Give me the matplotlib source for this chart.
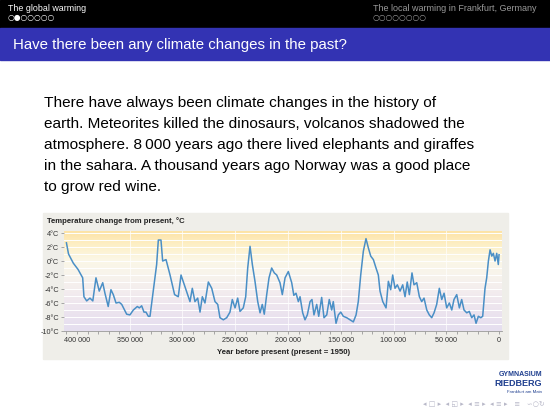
import numpy as np
import matplotlib.pyplot as plt
from matplotlib.colors import LinearSegmentedColormap
from matplotlib.patches import Rectangle

# temperature change from present
years_ka = [410, 408, 403.5, 399, 394.6, 393.4, 390.8, 387.7, 385, 382,
            378.9, 375.6, 373.5, 370.4, 367.8, 365.6, 363, 359.9, 357.6, 352.9,
            349.8, 346.6, 342.8, 340.9, 338.7, 336.5, 334.6, 332.4, 330.8, 327.7,
            324.5, 322.9, 320.4, 318.8, 315.6, 311.8, 307.5, 304, 301.4, 298.3,
            295.1, 292.9, 290.7, 288.2, 285.6, 283.4, 281.2, 278.7, 275.5, 272.3,
            269.2, 266.6, 264.5, 261.3, 258.1, 255, 252.8, 250.2, 247.7, 245.5,
            242.4, 240.1, 238.2, 236, 233.8, 231.3, 228.7, 226.5, 224.4, 222.5,
            220.2, 218, 215.5, 213, 210.7, 207.6, 205.4, 202.8, 199.7, 196.5,
            194.5, 192.4, 190.2, 188.6, 186.1, 183.9, 181.7, 179.1, 177.3, 175.4,
            172.8, 170.9, 168.1, 165.9, 163.3, 160.9, 158.6, 157.1, 154.5, 152.3,
            150, 147.6, 144.4, 141.2, 138.1, 135.5, 133.4, 131.1, 128.6, 126.1,
            123.9, 121.6, 119.1, 116.6, 114.4, 112.8, 110.2, 107.1, 104.9, 102.7,
            100.8, 98.6, 96.4, 93.8, 91.3, 89.1, 87, 85, 82.5, 80.6,
            78, 75.5, 73.3, 71.1, 68.5, 66.1, 63.8, 61.6, 59.1, 56.6,
            54.3, 52.1, 49.6, 47.1, 44.8, 42.7, 40.1, 37.6, 35.4, 33.2,
            30.6, 28.2, 25.9, 23.7, 21.8, 19.6, 17.3, 15.5, 13.3, 11.7,
            10.1, 8.5, 6.9, 5.4, 3.8, 2.2, 0.7, 0]
temp_c = [2.6, 1.0, -0.3, -1.2, -2.4, -5.1, -5.7, -5.3, -5.7, -2.4,
          -4.3, -3.1, -4.6, -6.5, -4.1, -4.8, -6.0, -5.9, -6.2, -7.6,
          -7.7, -7.0, -6.5, -6.7, -6.4, -7.3, -7.3, -7.9, -7.9, -4.3,
          -0.5, 3.0, 3.0, 0.0, 0.2, -2.0, -4.8, -5.1, -2.0, -3.4,
          -4.8, -5.8, -3.9, -5.8, -5.3, -7.3, -5.1, -6.0, -3.0, -3.9,
          -5.8, -6.2, -8.1, -8.4, -8.1, -7.3, -5.5, -6.7, -5.3, -7.2,
          -6.7, -5.1, -1.0, 2.1, -0.5, -2.9, -5.8, -7.4, -6.2, -7.6,
          -4.8, -2.4, -1.0, -1.7, -2.0, -3.1, -4.8, -2.4, -1.5, -3.1,
          -4.9, -4.6, -5.8, -5.1, -7.4, -8.4, -7.7, -5.8, -5.5, -7.7,
          -6.2, -7.9, -5.2, -8.1, -7.7, -5.5, -7.0, -5.8, -8.9, -7.7,
          -7.3, -7.9, -8.1, -8.4, -8.7, -7.7, -5.8, -2.0, 1.4, 3.2,
          1.9, 0.7, 0.2, -1.0, -2.0, -4.3, -5.8, -6.7, -2.9, -4.1,
          -2.0, -3.9, -3.4, -4.3, -3.4, -5.1, -3.0, -4.8, -1.7, -3.4,
          -3.1, -5.1, -5.8, -5.3, -7.0, -7.7, -8.1, -7.4, -6.2, -3.9,
          -5.5, -4.6, -6.7, -6.0, -7.0, -5.5, -4.8, -6.7, -5.5, -7.0,
          -7.4, -7.2, -8.1, -7.7, -8.9, -7.9, -8.1, -7.9, -3.9, -2.4,
          0.0, 1.6, 0.7, 1.1, 0.0, 1.1, -0.5, 0.9]

y_ticks = [4, 2, 0, -2, -4, -6, -8, -10]
x_major = [400, 350, 300, 250, 200, 150, 100, 50, 0]
x_labels = ["400 000", "350 000", "300 000", "250 000", "200 000",
            "150 000", "100 000", "50 000", "0"]

body_lines = [
    "There have always been climate changes in the history of",
    "earth. Meteorites killed the dinosaurs, volcanos shadowed the",
    "atmosphere. 8\u2009000 years ago there lived elephants and giraffes",
    "in the sahara. A thousand years ago Norway was a good place",
    "to grow red wine.",
]

W, H = 550, 412
sans = ["Liberation Sans", "DejaVu Sans"]
narrow = ["Liberation Sans Narrow", "Liberation Sans", "DejaVu Sans"]

fig = plt.figure(figsize=(W / 100, H / 100), dpi=100)

# slide canvas in pixel coordinates
slide = fig.add_axes([0, 0, 1, 1])
slide.set_xlim(0, W)
slide.set_ylim(H, 0)
slide.axis("off")

slide.add_patch(Rectangle((0, 0), W, 28, color="black"))
slide.add_patch(Rectangle((0, 28), W, 32, color="#3333b3"))
slide.text(8, 8, "The global warming", color="white", fontsize=6.4,
           family=sans, va="center")
slide.text(8, 17.5, "\u25cb\u25cf\u25cb\u25cb\u25cb\u25cb\u25cb", color="white",
           fontsize=5.6, family=["DejaVu Sans"], va="center")
slide.text(373, 8, "The local warming in Frankfurt, Germany", color="#9a9a9a",
           fontsize=6.5, family=sans, va="center")
slide.text(373, 17.5, "\u25cb" * 8, color="#9a9a9a",
           fontsize=5.6, family=["DejaVu Sans"], va="center")
slide.text(13, 45, "Have there been any climate changes in the past?",
           color="white", fontsize=10.8, family=sans, va="center")

for i, line in enumerate(body_lines):
    slide.text(44, 103 + 21 * i, line, fontsize=11.1, family=sans,
               color="black", va="center")

# picture frame of the inserted chart
slide.add_patch(Rectangle((43, 213), 465, 146, color="#efeee9"))
slide.text(47, 221, "Temperature change from present, \u00b0C", fontsize=5.6,
           fontweight="bold", family=narrow, color="#222222", va="center")
slide.text(284, 353, "Year before present (present = 1950)", fontsize=5.6,
           fontweight="bold", family=narrow, color="#222222",
           ha="center", va="center")

# school logo and navigation symbols
slide.text(542, 375, "GYMNASIUM", fontsize=5, fontweight="bold",
           family=narrow, color="#1f3f8f", ha="right", va="center")
slide.text(542, 384, "RIEDBERG", fontsize=6.5, fontweight="bold",
           family=narrow, color="#1f3f8f", ha="right", va="center")
slide.text(542, 392, "Frankfurt am Main", fontsize=3.2,
           family=narrow, color="#1f3f8f", ha="right", va="center")
slide.text(545, 404,
           "\u25c2 \u25a1 \u25b8  \u25c2 \u25f1 \u25b8  \u25c2 \u2261 \u25b8  "
           "\u25c2 \u2261 \u25b8   \u2261   \u223d\u25cb\u21bb",
           fontsize=5, family=["DejaVu Sans"], color="#b8b8c8",
           ha="right", va="center")

# the chart itself
ax = fig.add_axes([64 / W, 1 - 331 / H, 438 / W, 100 / H])
x_lo, x_hi = 412.3, -2.8
y_lo, y_hi = -10, 4.29

stops = ["#e5dff0", "#eae2ef", "#efe7ee", "#f4eeee", "#f8f4ec",
         "#fbf7e6", "#fdf0c8", "#fde3a6"]
cmap = LinearSegmentedColormap.from_list("bg", stops)
ax.imshow(np.linspace(0, 1, 256).reshape(-1, 1), cmap=cmap, origin="lower",
          extent=[x_lo, x_hi, y_lo, y_hi], aspect="auto", zorder=0)

for v in range(-9, 5):
    ax.axhline(v, color="white", lw=0.7, zorder=1)
for xm in x_major[1:-1]:
    ax.axvline(xm, color="white", lw=0.6, alpha=0.8, zorder=1)

ax.plot(years_ka, temp_c, color="#4a8fc6", lw=1.1, zorder=3)

ax.set_xlim(x_lo, x_hi)
ax.set_ylim(y_lo, y_hi)
ax.set_yticks(y_ticks, labels=[f"{v}\u00b0C" for v in y_ticks])
ax.set_xticks(x_major, labels=x_labels)
ax.set_xticks(np.arange(0, 411, 10), minor=True)
for lab in ax.get_xticklabels() + ax.get_yticklabels():
    lab.set_family(narrow)
ax.tick_params(which="both", direction="out", length=2.5, width=0.6,
               color="#999999", labelsize=5.2, labelcolor="#333333", pad=2)
ax.tick_params(axis="y", length=2, pad=1.5)
for side in ["top", "right", "left"]:
    ax.spines[side].set_visible(False)
ax.spines["bottom"].set_color("#999999")
ax.spines["bottom"].set_linewidth(0.6)

fig.savefig("out.png", dpi=100)
